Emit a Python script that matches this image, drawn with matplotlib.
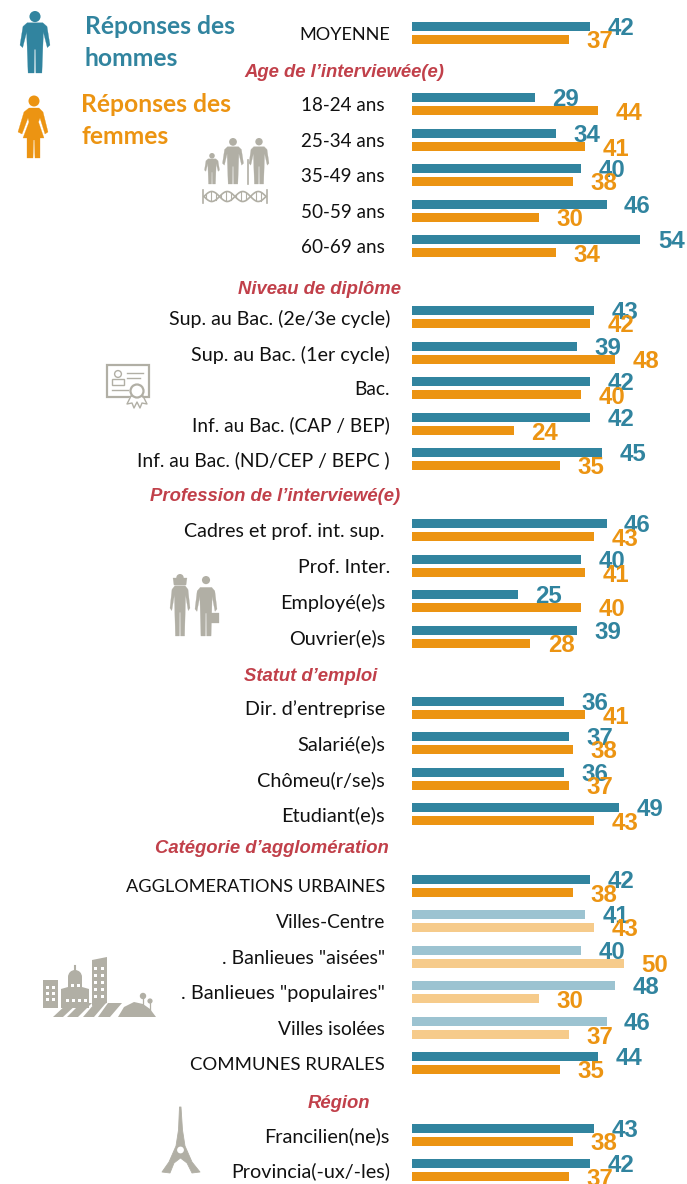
"""Réponses des hommes / femmes par catégorie : barres horizontales."""

import numpy as np
import matplotlib

matplotlib.use("Agg")
import matplotlib.pyplot as plt
from matplotlib.patches import Circle, Polygon, Rectangle

W, H = 687, 1184

labels = [
    "MOYENNE",
    "18-24 ans", "25-34 ans", "35-49 ans", "50-59 ans", "60-69 ans",
    "Sup. au Bac. (2e/3e cycle)", "Sup. au Bac. (1er cycle)", "Bac.",
    "Inf. au Bac. (CAP / BEP)", "Inf. au Bac. (ND/CEP / BEPC )",
    "Cadres et prof. int. sup.", "Prof. Inter.", "Employé(e)s", "Ouvrier(e)s",
    "Dir. d’entreprise", "Salarié(e)s", "Chômeu(r/se)s", "Etudiant(e)s",
    "AGGLOMERATIONS URBAINES", "Villes-Centre", ". Banlieues \"aisées\"",
    ". Banlieues \"populaires\"", "Villes isolées", "COMMUNES RURALES",
    "Francilien(ne)s", "Provincia(-ux/-les)",
]
hommes = [42, 29, 34, 40, 46, 54, 43, 39, 42, 42, 45, 46, 40, 25, 39,
          36, 37, 36, 49, 42, 41, 40, 48, 46, 44, 43, 42]
femmes = [37, 44, 41, 38, 30, 34, 42, 48, 40, 24, 35, 43, 41, 40, 28,
          41, 38, 37, 43, 38, 43, 50, 30, 37, 35, 38, 37]
sections = [
    "Age de l’interviewée(e)", "Niveau de diplôme",
    "Profession de l’interviewé(e)", "Statut d’emploi",
    "Catégorie d’agglomération", "Région",
]

# layout, in reference pixels
row_y = [33, 104, 140, 175, 211, 246, 317, 353, 388, 424, 459, 530, 566, 601,
         637, 708, 743, 779, 814, 886, 921, 957, 992, 1028, 1063, 1135, 1170]
label_right = [390, 385, 385, 385, 385, 385, 390, 390, 390, 390, 390, 385, 390,
               385, 385, 385, 385, 385, 385, 385, 385, 385, 385, 385, 385, 390, 390]
# Lato runs narrower than the original font on lowercase, wider on capitals
label_size = [13.1, 13.6, 13.6, 13.6, 13.6, 13.6, 14.1, 14.2, 13.9, 13.7, 13.9,
              14.1, 14.1, 14.3, 14.2, 14.2, 14.4, 14.3, 14.4, 13.1, 13.8, 14.0,
              14.3, 13.9, 13.3, 14.3, 14.2]
section_xy = [(344, 71), (320, 288), (275, 495), (311, 675), (272, 847), (339, 1102)]
light_rows = {20, 21, 22, 23}

BLUE = "#31849f"
ORANGE = "#ec9412"
LIGHT_BLUE = "#9cc3d1"
LIGHT_ORANGE = "#f6cb8b"
RED = "#c1404a"
GREY = "#b1afa5"

plt.rcParams["font.family"] = ["Lato", "DejaVu Sans"]
fig = plt.figure(figsize=(W / 100, H / 100), dpi=100)

# page axes, in pixels, for the texts and the icons
deco = fig.add_axes([0, 0, 1, 1])
deco.set_xlim(0, W)
deco.set_ylim(H, 0)
deco.axis("off")

# bars: 4.23 px per point, baseline at x = 412
ax = fig.add_axes([412 / W, 0, (W - 412) / W, 1])
ax.set_xlim(0, (W - 412) / 4.23)
ax.set_ylim(H, 0)
ax.axis("off")
ax.patch.set_alpha(0)

y = np.array(row_y, dtype=float)
colors_h = [LIGHT_BLUE if i in light_rows else BLUE for i in range(len(y))]
colors_f = [LIGHT_ORANGE if i in light_rows else ORANGE for i in range(len(y))]
ax.barh(y - 6.6, hommes, height=9.6, color=colors_h)
ax.barh(y + 6.6, femmes, height=9.6, color=colors_f)

for yi, h, f in zip(y, hommes, femmes):
    for val, yy, col in ((h, yi - 4.2, BLUE), (f, yi + 9.0, ORANGE)):
        ax.annotate(str(val), (val, yy), xytext=(12.6, 0), textcoords="offset points",
                    ha="left", va="center", color=col, fontsize=17.3, fontweight="bold",
                    family="Liberation Sans", annotation_clip=False)

for lab, yi, xr, fs in zip(labels, row_y, label_right, label_size):
    deco.text(xr, yi + 1.5, lab, ha="right", va="center", fontsize=fs, color="#111111")

for sec, (sx, sy) in zip(sections, section_xy):
    deco.text(sx, sy + 1.5, sec, ha="center", va="center", fontsize=13.3, color=RED,
              fontweight="bold", fontstyle="italic", family="Liberation Sans")

deco.text(85, 27, "Réponses des", color=BLUE, fontsize=17.7, fontweight="bold", va="center")
deco.text(85, 58, "hommes", color=BLUE, fontsize=17.7, fontweight="bold", va="center")
deco.text(81, 105, "Réponses des", color=ORANGE, fontsize=17.7, fontweight="bold", va="center")
deco.text(81, 136, "femmes", color=ORANGE, fontsize=17.7, fontweight="bold", va="center")


def shape(points, color=GREY, lw=0.2):
    deco.add_patch(Polygon(points, closed=True, fc=color, ec=color, lw=lw, joinstyle="round"))


def person(cx, top, width, height, color=GREY):
    """Head and body, scaled into a box whose top centre is (cx, top)."""
    r = width * 0.185
    deco.add_patch(Circle((cx, top + r), r, fc=color, ec="none"))
    base = np.array([
        (-.26, .19), (.26, .19), (.40, .25), (.50, .55), (.41, .59), (.28, .34),
        (.23, 1.0), (.03, 1.0), (.02, .62), (-.02, .62), (-.03, 1.0), (-.23, 1.0),
        (-.28, .34), (-.41, .59), (-.50, .55), (-.40, .25),
    ])
    shape(base * [width, height] + [cx, top], color)


# legend figures
person(35, 11, 30, 62, BLUE)
deco.add_patch(Circle((34, 101), 5.5, fc=ORANGE, ec="none"))
shape([(29, 108), (39, 108), (43, 112), (48, 132), (45, 134), (40, 118), (38.5, 122),
       (44, 138), (40, 138), (40, 158), (35, 158), (34.5, 140), (33.5, 140), (33, 158),
       (27, 158), (27, 138), (23, 138), (29, 122), (28, 118), (22, 134), (18, 132),
       (24, 112)], ORANGE)

# family and DNA
person(212, 153, 15, 31)
person(233, 138, 21, 46)
person(259, 138, 20, 46)
deco.plot([248, 248], [160, 184], color=GREY, lw=1.2)
t = np.linspace(204, 266, 80)
deco.plot(t, 196.5 + 5 * np.sin((t - 204) / 62 * 4 * np.pi), color=GREY, lw=1.2)
deco.plot(t, 196.5 - 5 * np.sin((t - 204) / 62 * 4 * np.pi), color=GREY, lw=1.2)
for tx in range(206, 268, 5):
    off = 5 * np.sin((tx - 204) / 62 * 4 * np.pi)
    deco.plot([tx, tx], [196.5 - off, 196.5 + off], color=GREY, lw=0.8)
deco.plot([203, 203], [190, 203], color=GREY, lw=1.2)
deco.plot([267, 267], [190, 203], color=GREY, lw=1.2)

# diploma
deco.add_patch(Rectangle((107, 365), 42, 32, fc="white", ec=GREY, lw=1.6))
deco.add_patch(Circle((118, 374), 3.4, fc="white", ec=GREY, lw=1.0))
deco.add_patch(Rectangle((112, 379), 12, 6, fc="white", ec=GREY, lw=1.0))
for x0, x1, yl in ((127, 143, 373), (127, 140, 378), (112, 128, 390)):
    deco.plot([x0, x1], [yl, yl], color=GREY, lw=1.0)
shape([(129, 398), (133, 396), (141, 396), (148, 404), (143, 403), (141, 408), (137, 402),
       (133, 408), (131, 403), (126, 404)], "white", 0)
deco.plot([131, 127, 132, 134, 137, 140, 142, 147, 143],
          [396, 404, 403, 408, 402, 408, 403, 404, 396], color=GREY, lw=1.0)
deco.add_patch(Circle((137, 391), 6.5, fc="white", ec=GREY, lw=1.6))

# workers
person(180, 574, 20, 62)
shape([(173, 578), (187, 578), (186, 585), (174, 585)])
person(206, 576, 22, 60)
shape([(210, 613), (219, 613), (219, 623), (210, 623)])

# city
shape([(43, 980), (58, 980), (58, 1008), (43, 1008)], lw=0)
shape([(61, 989), (68, 987), (68, 977), (82, 977), (82, 987), (89, 989),
       (89, 1008), (61, 1008)], lw=0)
deco.add_patch(Circle((75, 977), 7, fc=GREY, ec="none"))
deco.plot([75, 75], [966, 972], color=GREY, lw=1.5)
shape([(92, 960), (107, 957), (107, 1003), (92, 1006)], lw=0)
for wx, wy in [(47, 987), (53, 987), (47, 993), (53, 993), (47, 999), (53, 999),
               (67, 1000), (73, 1000), (79, 1000), (85, 1000), (72, 985), (78, 985),
               (95, 968), (102, 968), (95, 975), (102, 975), (95, 982), (102, 982),
               (95, 989), (102, 989), (95, 996), (102, 996)]:
    deco.add_patch(Rectangle((wx - 1.5, wy - 1.5), 3, 3, fc="white", ec="none"))
for x0, x1, x2, x3 in ((53, 63, 78, 68), (67, 78, 92, 81), (83, 94, 106, 95), (98, 110, 122, 108)):
    shape([(x0, 1017), (x1, 1017), (x2, 1003), (x3, 1003)], lw=0)
shape([(118, 1017), (124, 1007), (134, 1002), (143, 1004), (150, 1009), (156, 1017)], lw=0)
deco.add_patch(Circle((143, 996), 3.2, fc=GREY, ec="none"))
deco.add_patch(Circle((150, 1001), 2.6, fc=GREY, ec="none"))
deco.plot([143, 143], [996, 1006], color=GREY, lw=0.9)
deco.plot([150, 150], [1001, 1010], color=GREY, lw=0.9)

# Eiffel tower
shape([(179.5, 1107), (181, 1107), (182.5, 1130), (185, 1146), (192, 1162), (200, 1172),
       (192, 1173), (187, 1163), (180.5, 1158), (174, 1163), (170, 1173), (162, 1172),
       (169, 1162), (176, 1146), (178.5, 1130)], lw=0.6)
deco.add_patch(Circle((180.5, 1150), 3.4, fc="white", ec="none"))

fig.savefig("out.png", dpi=100)
